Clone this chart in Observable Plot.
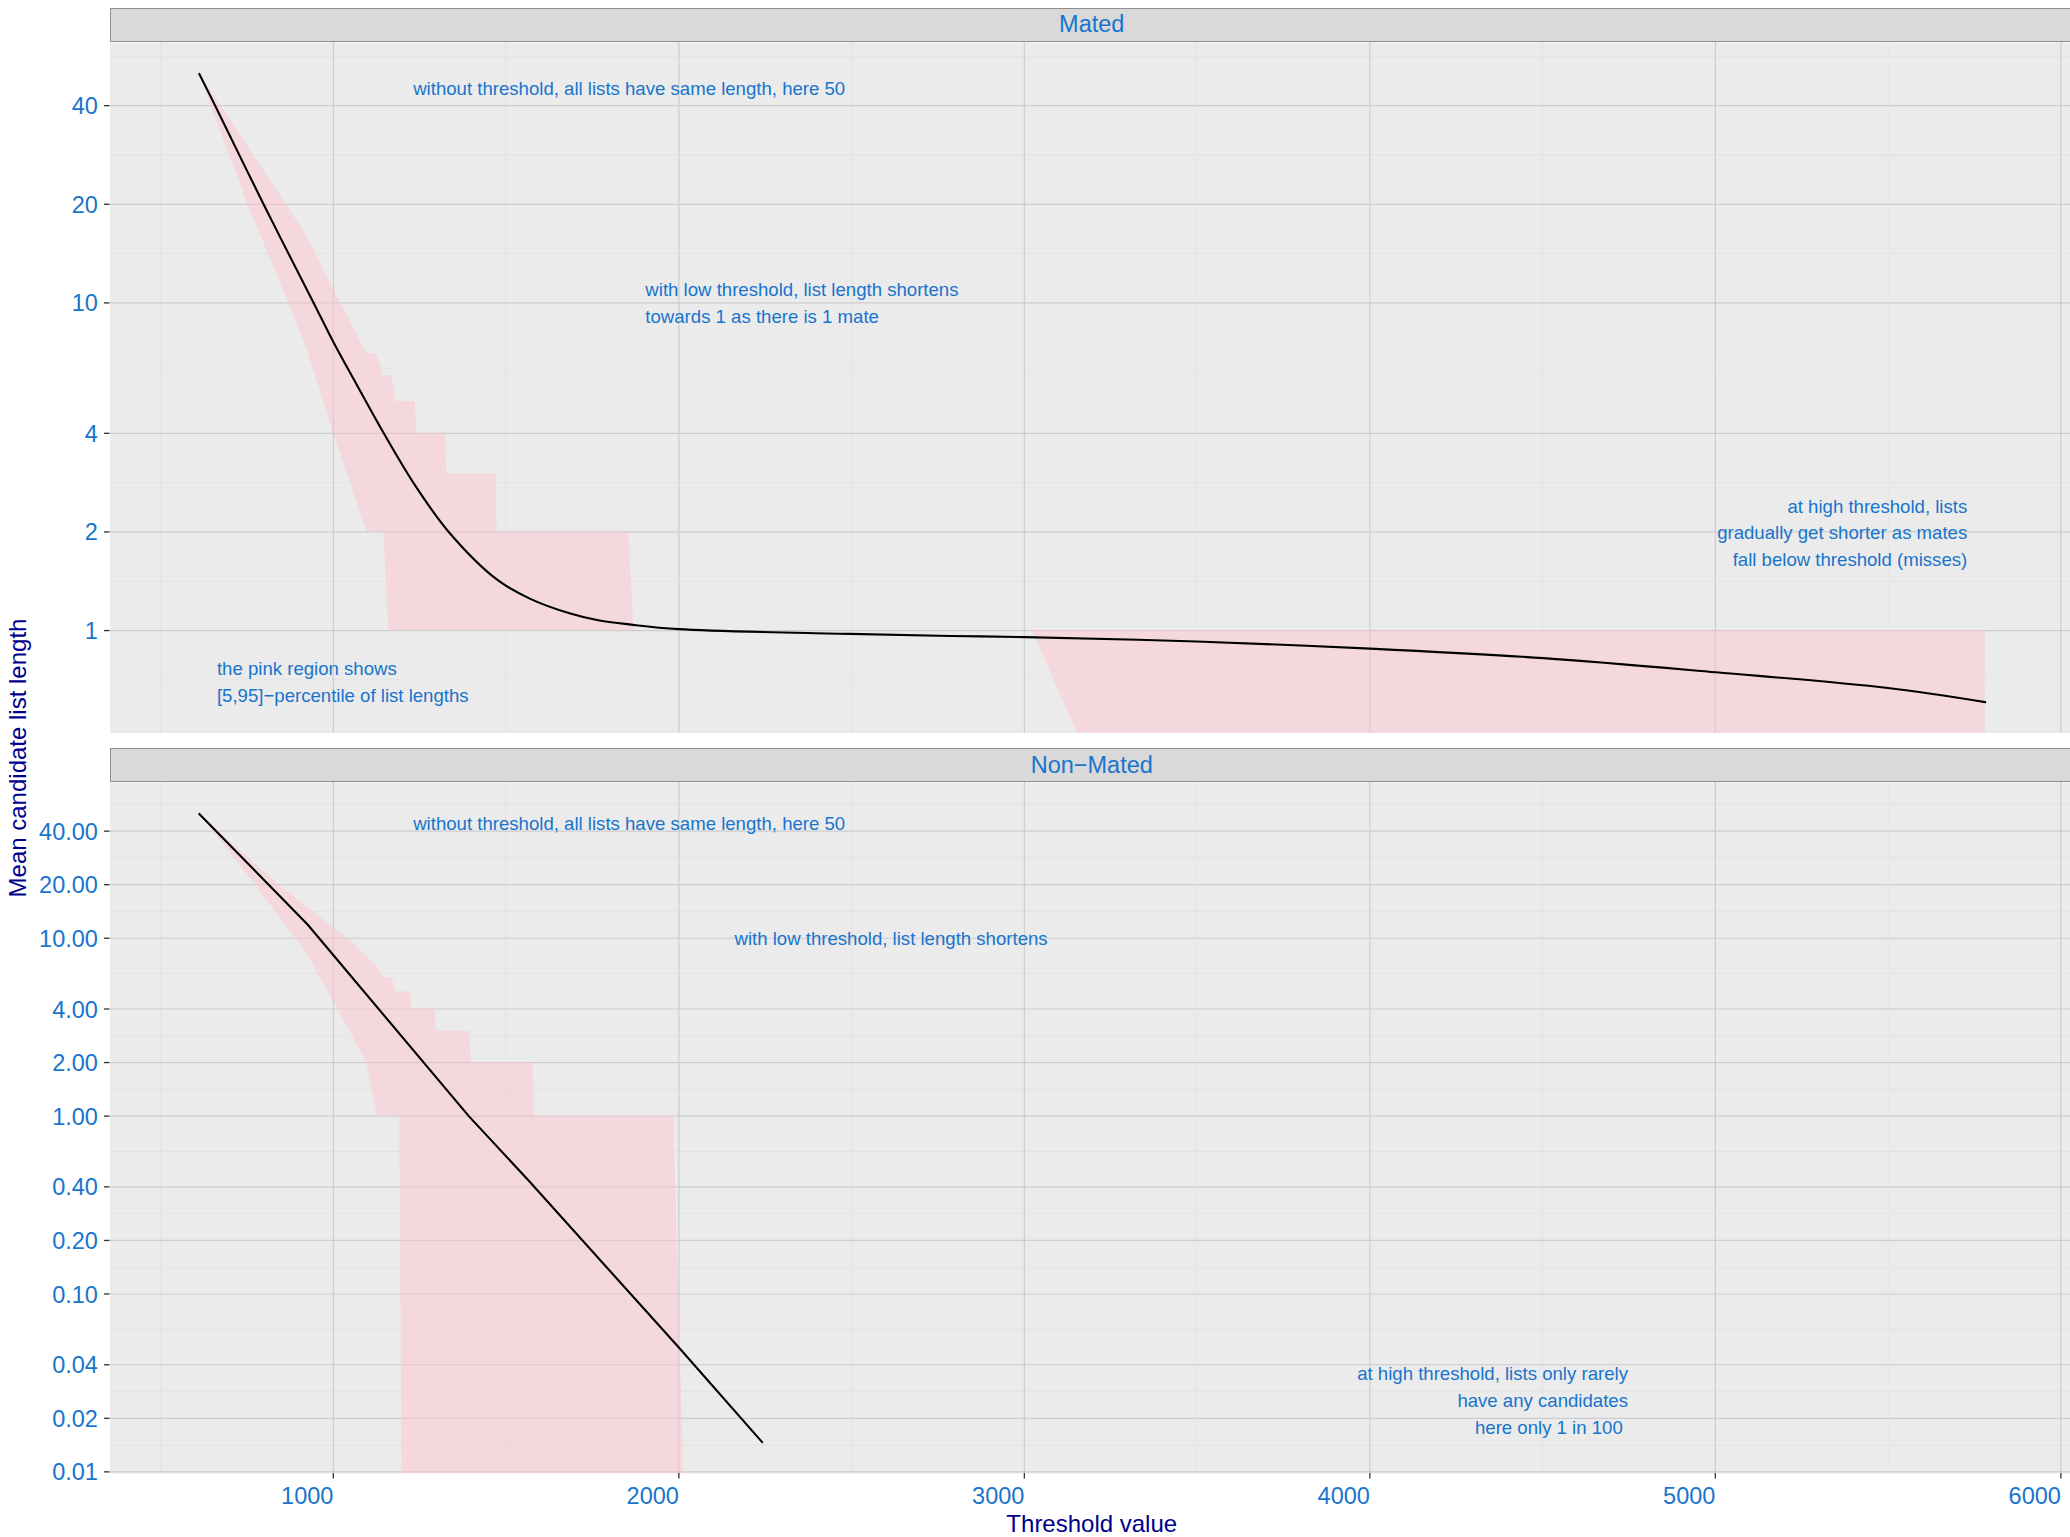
<!DOCTYPE html>
<html>
<head>
<meta charset="utf-8">
<script src="https://cdn.jsdelivr.net/npm/d3@7"></script>
<script src="https://cdn.jsdelivr.net/npm/@observablehq/plot@0.6"></script>
<style>
  html, body { margin: 0; padding: 0; background: #ffffff; overflow: hidden; }
  #fig { position: relative; width: 2070px; height: 1537px; overflow: hidden; background: #ffffff;
         font-family: "Liberation Sans", Arial, Helvetica, sans-serif; }
  .strip { position: absolute; box-sizing: border-box; background: #D9D9D9; border: 1.3px solid #8E8E8E;
           color: #1874CD; font-size: 23.5px; line-height: 1; display: flex; align-items: center; justify-content: center; }
  .plotbox { position: absolute; left: 0; }
  .title { position: absolute; white-space: nowrap; color: #00008B; font-size: 24px; line-height: 24px; }
</style>
</head>
<body>
<div id="fig"></div>
<script>
// ---------------- data ----------------
const facets = ["Mated", "Non\u2212Mated"];

// x axis ticks
const xTicks = [1000, 2000, 3000, 4000, 5000, 6000];
const xMinorTicks = [500, 1500, 2500, 3500, 4500, 5500];

// y axis ticks per facet
const matedYTicks = [1, 2, 4, 10, 20, 40];
const matedYMinor = [0.7071, 1.4142, 2.8284, 6.3246, 14.142, 28.284, 56.569];
const nonMatedYTicks = [0.01, 0.02, 0.04, 0.1, 0.2, 0.4, 1, 2, 4, 10, 20, 40];
const nonMatedYMinor = [0.01414, 0.02828, 0.06325, 0.1414, 0.2828, 0.6325, 1.414, 2.828, 6.325, 14.14, 28.28, 56.57];

// Mated: mean candidate list length
const matedThreshold = [612, 658, 798, 943, 1000, 1059, 1146, 1237, 1334, 1474, 1570, 1686, 1763, 1861, 2000, 2496, 2786, 3003, 3499, 4001, 4502, 5002, 5500, 5781];
const matedMean      = [50, 40, 20, 10, 7.6, 5.85, 4, 2.77, 2, 1.43, 1.25, 1.127, 1.077, 1.043, 1.01, 0.977, 0.963, 0.955, 0.926, 0.881, 0.824, 0.746, 0.668, 0.605];

// Mated: [5,95] percentile band (0 = empty list)
const matedBandThreshold = [612, 753, 870, 924, 1001, 1097, 1126, 1144, 1146, 1160, 1170, 1182, 1237, 1242, 1324, 1329, 1471, 1474, 1855, 1870, 3023, 3154, 5781];
const matedP5  = [50, 20, 10, 7.2, 4, 2, 2, 2, 2, 1, 1, 1, 1, 1, 1, 1, 1, 1, 1, 1, 1, 0, 0];
const matedP95 = [50, 30, 19.5, 16, 11, 7, 7, 6, 6, 6, 6, 5, 5, 4, 4, 3, 3, 2, 2, 1, 1, 1, 1];

// Non-Mated: mean candidate list length
const nonMatedThreshold = [612, 926, 1392, 1567, 2000, 2241];
const nonMatedMean      = [50, 11.9, 1.0, 0.43, 0.05, 0.0147];

// Non-Mated: [5,95] percentile band
const nonMatedBandThreshold = [612, 775, 842, 924, 1040, 1097, 1126, 1144, 1170, 1181, 1192, 1199, 1223, 1227, 1295, 1298, 1395, 1399, 1578, 1582, 1985, 2014, 2241];
const nonMatedP5  = [50, 20, 13.4, 8.16, 3.2, 2, 1, 1, 1, 1, 1, 0, 0, 0, 0, 0, 0, 0, 0, 0, 0, 0, 0];
const nonMatedP95 = [50, 26, 20, 15, 10, 7.9, 7, 6, 6, 5, 5, 5, 5, 4, 4, 3, 3, 2, 2, 1, 1, 0, 0];

// annotations (data coordinates)
const matedNotes = [
  "without threshold, all lists have same length, here 50",
  "with low threshold, list length shortens\ntowards 1 as there is 1 mate",
  "at high threshold, lists\ngradually get shorter as mates\nfall below threshold (misses)",
  "the pink region shows\n[5,95]\u2212percentile of list lengths"
];
const matedNoteX = [1231, 1903, 5729, 663];
const matedNoteY = [42.97, 8.68, 1.573, 0.6046];
const matedNoteAlign = ["start", "start", "end", "start"];

const nonMatedNotes = [
  "without threshold, all lists have same length, here 50",
  "with low threshold, list length shortens",
  "at high threshold, lists only rarely\nhave any candidates\nhere only 1 in 100\u00a0"
];
const nonMatedNoteX = [1231, 2161, 4747];
const nonMatedNoteY = [40.7, 9.11, 0.01642];
const nonMatedNoteAlign = ["start", "start", "end"];

const xLabel = "Threshold value";
const yLabel = "Mean candidate list length";

// ---------------- styling / layout ----------------
const FONT = "'Liberation Sans', Arial, Helvetica, sans-serif";
const BLUE = "#1874CD";
const PANEL_BG = "#EBEBEB";
const GRID_MAJOR = "#CDCDCD";
const GRID_MINOR = "#E2E2E2";
const TICK = "#333333";
const panelLeft = 109.5, panelRight = 2074;
const panelH = 691;
const tickSize = 5.5, yTickPad = 6.6;

// scale limits like ggplot (5% expansion)
const allX = [...matedThreshold, ...matedBandThreshold, ...nonMatedThreshold, ...nonMatedBandThreshold];
const [xa, xb] = d3.extent(allX);
const xDomain = [xa - (xb - xa) * 0.05, xb + (xb - xa) * 0.05];
function logLimits(values) {
  const [lo, hi] = d3.extent(values.filter(v => v > 0));
  const a = Math.log10(lo), b = Math.log10(hi), e = (b - a) * 0.05;
  return [10 ** (a - e), 10 ** (b + e)];
}
const matedDomain = logLimits([...matedMean, ...matedP5, ...matedP95]);
const nonMatedDomain = logLimits([...nonMatedMean, ...nonMatedP5, ...nonMatedP95]);

function zip(xs, ys) { return xs.map((x, i) => ({t: x, v: ys[i]})); }
function band(ts, lo, hi, floor) {
  // empty lists (0) sit at -Inf on a log axis: squished to the panel bottom
  return ts.map((t, i) => ({t, lo: lo[i] > 0 ? lo[i] : floor, hi: hi[i] > 0 ? hi[i] : floor}));
}
function notes(texts, xs, ys, al) { return texts.map((s, i) => ({s, x: xs[i], y: ys[i], a: al[i]})); }

function panel({line, ribbon, ann, yTicks, yMinor, yFormat, yDomain, curve, bottomAxis}) {
  const marginBottom = bottomAxis ? 40 : 0;
  const noteOpts = {x: "x", y: "y", text: "s", fill: BLUE, fontSize: 18.6, lineAnchor: "bottom", lineHeight: 1.435};
  const marks = [
    Plot.frame({fill: PANEL_BG, stroke: "none"}),
    Plot.ruleY(yMinor, {stroke: GRID_MINOR, strokeWidth: 0.9}),
    Plot.ruleX(xMinorTicks, {stroke: GRID_MINOR, strokeWidth: 0.9}),
    Plot.ruleY(yTicks, {stroke: GRID_MAJOR, strokeWidth: 1.2}),
    Plot.ruleX(xTicks, {stroke: GRID_MAJOR, strokeWidth: 1.2}),
    Plot.areaY(ribbon, {x: "t", y1: "lo", y2: "hi", fill: "#FFC0CB", fillOpacity: 0.45, curve: "linear"}),
    Plot.line(line, {x: "t", y: "v", stroke: "black", strokeWidth: 2.1, curve}),
    Plot.text(ann.filter(d => d.a === "start"), {...noteOpts, textAnchor: "start"}),
    Plot.text(ann.filter(d => d.a === "end"), {...noteOpts, textAnchor: "end"}),
    // y ticks (marks only) + tick labels
    Plot.axisY({ticks: yTicks, tickFormat: () => "", tickSize, tickPadding: yTickPad,
                stroke: TICK, strokeWidth: 1.3, label: null}),
    Plot.text(yTicks, {y: d => d, text: yFormat, frameAnchor: "left", textAnchor: "end",
                       dx: -(tickSize + yTickPad), dy: 1, fill: BLUE, fontSize: 23.5, lineAnchor: "middle"})
  ];
  if (bottomAxis) {
    marks.push(Plot.axisX({ticks: xTicks, tickFormat: d => String(d), tickSize, tickPadding: 8,
                           fontSize: 23.5, textAnchor: "end", fill: BLUE, stroke: TICK, strokeWidth: 1.3, label: null}));
  }
  return Plot.plot({
    width: 2070,
    height: panelH + marginBottom,
    marginLeft: panelLeft, marginRight: 0, marginTop: 0, marginBottom,
    x: {type: "linear", domain: xDomain, range: [panelLeft, panelRight], axis: bottomAxis ? undefined : null},
    y: {type: "log", domain: yDomain},
    style: {background: "transparent", fontFamily: FONT, maxWidth: "none"},
    marks
  });
}

const fig = document.getElementById("fig");

function addStrip(label, top, height) {
  const s = document.createElement("div");
  s.className = "strip";
  s.style.left = panelLeft + "px";
  s.style.width = (panelRight - panelLeft) + "px";
  s.style.top = top + "px";
  s.style.height = height + "px";
  s.textContent = label;
  fig.appendChild(s);
}
function addPlot(svg, top) {
  const box = document.createElement("div");
  box.className = "plotbox";
  box.style.top = top + "px";
  box.appendChild(svg);
  fig.appendChild(box);
}

addStrip(facets[0], 8.3, 33.7);
addPlot(panel({
  line: zip(matedThreshold, matedMean),
  ribbon: band(matedBandThreshold, matedP5, matedP95, matedDomain[0]),
  ann: notes(matedNotes, matedNoteX, matedNoteY, matedNoteAlign),
  yTicks: matedYTicks, yMinor: matedYMinor, yFormat: d => String(d),
  yDomain: matedDomain, curve: "catmull-rom", bottomAxis: false
}), 42);

addStrip(facets[1], 748.3, 34);
addPlot(panel({
  line: zip(nonMatedThreshold, nonMatedMean),
  ribbon: band(nonMatedBandThreshold, nonMatedP5, nonMatedP95, nonMatedDomain[0]),
  ann: notes(nonMatedNotes, nonMatedNoteX, nonMatedNoteY, nonMatedNoteAlign),
  yTicks: nonMatedYTicks, yMinor: nonMatedYMinor, yFormat: d3.format(".2f"),
  yDomain: nonMatedDomain, curve: "linear", bottomAxis: true
}), 782);

const xt = document.createElement("div");
xt.className = "title";
xt.textContent = xLabel;
xt.style.left = ((panelLeft + panelRight) / 2) + "px";
xt.style.top = "1512.2px";
xt.style.transform = "translateX(-50%)";
fig.appendChild(xt);

const yt = document.createElement("div");
yt.className = "title";
yt.textContent = yLabel;
yt.style.left = "17.6px";
yt.style.top = "757.7px";
yt.style.transform = "translate(-50%, -50%) rotate(-90deg)";
fig.appendChild(yt);
</script>
</body>
</html>
